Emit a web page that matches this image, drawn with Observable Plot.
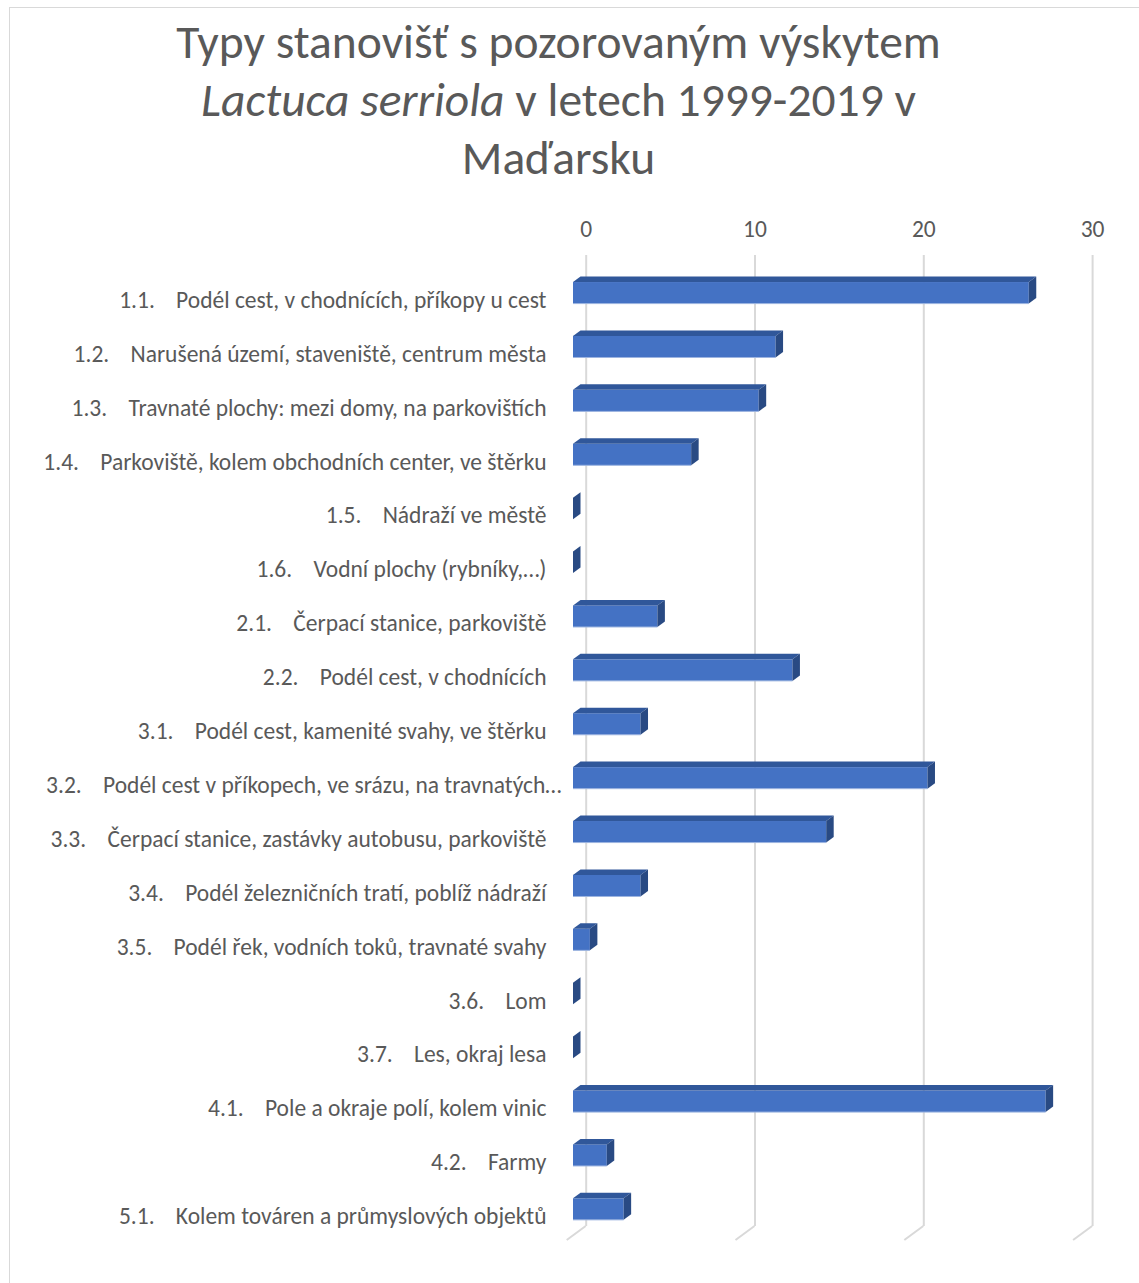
<!DOCTYPE html>
<html>
<head>
<meta charset="utf-8">
<script src="https://cdn.jsdelivr.net/npm/d3@7"></script>
<script src="https://cdn.jsdelivr.net/npm/@observablehq/plot@0.6"></script>
<style>
  html, body { margin: 0; padding: 0; background: #fff; width: 1139px; height: 1283px; overflow: hidden; position: relative; }
  #frame { position: absolute; left: 9px; top: 7px; width: 1300px; height: 1400px; border: 1px solid #d9d9d9; box-sizing: border-box; }
  #title { position: absolute; left: 0; top: 13px; width: 1117px; text-align: center; font-family: Carlito, Lato, sans-serif; font-size: 47.5px; line-height: 58px; color: #595959; }
  #chart { position: absolute; left: 0; top: 200px; }
</style>
</head>
<body>
<div id="frame"></div>
<div id="title">Typy stanovišť s pozorovaným výskytem<br><i>Lactuca serriola</i> v letech 1999-2019 v<br>Maďarsku</div>
<div id="chart"></div>
<script>
const codes = ["1.1.", "1.2.", "1.3.", "1.4.", "1.5.", "1.6.", "2.1.", "2.2.", "3.1.", "3.2.", "3.3.", "3.4.", "3.5.", "3.6.", "3.7.", "4.1.", "4.2.", "5.1."];
const names = [
  "Podél cest, v chodnících, příkopy u cest",
  "Narušená území, staveniště, centrum města",
  "Travnaté plochy: mezi domy, na parkovištích",
  "Parkoviště, kolem obchodních center, ve štěrku",
  "Nádraží ve městě",
  "Vodní plochy (rybníky,…)",
  "Čerpací stanice, parkoviště",
  "Podél cest, v chodnících",
  "Podél cest, kamenité svahy, ve štěrku",
  "Podél cest v příkopech, ve srázu, na travnatých…",
  "Čerpací stanice, zastávky autobusu, parkoviště",
  "Podél železničních tratí, poblíž nádraží",
  "Podél řek, vodních toků, travnaté svahy",
  "Lom",
  "Les, okraj lesa",
  "Pole a okraje polí, kolem vinic",
  "Farmy",
  "Kolem továren a průmyslových objektů"
];
const values = [27, 12, 11, 7, 0, 0, 5, 13, 4, 21, 15, 4, 1, 0, 0, 28, 2, 3];
const xTicks = [0, 10, 20, 30];

const categories = codes.map((c, i) => c + "\u00A0\u00A0\u00A0\u00A0" + names[i]);
const data = categories.map((c, i) => ({cat: c, value: values[i]}));
const isTruncated = d => d.cat.endsWith("…");

const W = 1139, H = 1083;
const depthX = 12.7;      // back wall offset of grid
const barDX = 7.5, barDY = -5.5;

const plot = Plot.plot({
  width: W,
  height: H,
  marginLeft: 573,
  marginRight: W - 573 - 506.4,
  marginTop: 55,
  marginBottom: 57,
  style: {fontFamily: "Carlito, Lato, sans-serif", fontSize: "23.5px", color: "#595959", background: "transparent"},
  x: {domain: [0, 30], axis: null},
  y: {domain: categories, range: [49.7, 1052.2], padding: 0.6, round: false, axis: null},
  marks: [
    Plot.ruleX(xTicks, {x: d => d, dx: depthX, stroke: "#d9d9d9", strokeWidth: 2}),
    Plot.text(xTicks, {x: d => d, dx: depthX, frameAnchor: "top", dy: -26, lineAnchor: "middle", text: d => String(d), fill: "#595959", fontSize: 23.5}),
    Plot.barX(data, {y: "cat", x: "value", fill: "#4472C4"}),
    Plot.text(data, {filter: d => !isTruncated(d), y: "cat", x: () => 0, text: "cat", textAnchor: "end", dx: -27, dy: 7, fill: "#595959", fontSize: 23.5}),
    Plot.text(data, {filter: isTruncated, y: "cat", x: () => 0, text: "cat", textAnchor: "end", dx: -12, dy: 7, fill: "#595959", fontSize: 23.5})
  ]
});

document.getElementById("chart").appendChild(plot);

// 3D faces and grid feet drawn with the plot's own scales
const xs = plot.scale("x"), ys = plot.scale("y");
const svg = d3.select(plot.tagName.toLowerCase() === "svg" ? plot : plot.querySelector("svg"));
const frameBottom = H - 57;
const feet = svg.append("g");
xTicks.forEach(t => {
  const xb = xs.apply(t) + depthX;
  feet.append("line")
    .attr("x1", xb).attr("y1", frameBottom)
    .attr("x2", xb - 19).attr("y2", frameBottom + 14)
    .attr("stroke", "#d9d9d9").attr("stroke-width", 2);
});
const faces = svg.append("g");
const bw = ys.bandwidth;
data.forEach(d => {
  const x0 = xs.apply(0), x1 = xs.apply(d.value);
  const yt = ys.apply(d.cat), yb = yt + bw;
  faces.append("polygon")
    .attr("points", [[x0, yt], [x1, yt], [x1 + barDX, yt + barDY], [x0 + barDX, yt + barDY]].map(p => p.join(",")).join(" "))
    .attr("fill", "#30579A");
  faces.append("polygon")
    .attr("points", [[x1, yt], [x1 + barDX, yt + barDY], [x1 + barDX, yb + barDY], [x1, yb]].map(p => p.join(",")).join(" "))
    .attr("fill", "#294A83");
  faces.append("line")
    .attr("x1", x0).attr("x2", x1).attr("y1", yb).attr("y2", yb)
    .attr("stroke", "#9DB5E0").attr("stroke-width", 1);
});
</script>
</body>
</html>
